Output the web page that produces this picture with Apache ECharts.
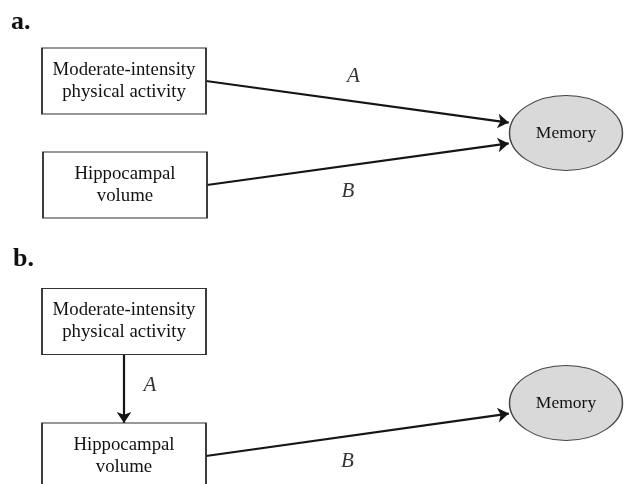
<!DOCTYPE html>
<html>
<head>
<meta charset="utf-8">
<script src="https://cdn.jsdelivr.net/npm/echarts@6/dist/echarts.min.js"></script>
<style>
  html, body { margin: 0; padding: 0; background: #fff; }
  #main { width: 624px; height: 484px; }
</style>
</head>
<body>
<div id="main"></div>
<script>
// nodes of the two path diagrams (a: top, b: bottom)
var nodeNames = ['Moderate-intensity\nphysical activity', 'Hippocampal\nvolume', 'Memory',
                 'Moderate-intensity\nphysical activity', 'Hippocampal\nvolume', 'Memory'];
var nodeX = [124, 125, 566, 124, 124, 566];
var nodeY = [81, 185, 133, 321.5, 456, 403];
var nodeKind = ['box', 'box', 'oval', 'box', 'box', 'oval'];

// paths
var edgeFrom = [0, 1, 3, 4];
var edgeTo = [2, 2, 4, 5];
var edgeLabels = ['A', 'B', 'A', 'B'];
var edgeLabelSide = ['above', 'below', 'right', 'below'];

var panelLetters = ['a.', 'b.'];

(function () {
    var myChart = echarts.init(document.getElementById('main'));
    var BOX_W = 164, BOX_H = 66, OVAL_W = 113, OVAL_H = 75;
    var serif = '"Liberation Serif", "Times New Roman", serif';

    // where each arrow starts / ends
    function ends(i) {
        var s = edgeFrom[i], t = edgeTo[i];
        if (nodeKind[t] === 'oval') {
            var x1 = nodeX[s] + BOX_W / 2, y1 = nodeY[s];
            var dy = 0.2 * (y1 - nodeY[t]);
            var k = dy / (OVAL_H / 2);
            var x2 = nodeX[t] - (OVAL_W / 2) * Math.sqrt(1 - k * k) - 3;
            return [[x1, y1], [x2, nodeY[t] + dy]];
        }
        return [[nodeX[s], nodeY[s] + BOX_H / 2], [nodeX[t], nodeY[t] - BOX_H / 2]];
    }
    var sideOffset = { above: [-4, -25], below: [-10, 27], right: [26, -3] };

    var boxData = [], ovalData = [], lineData = [], labelData = [];
    for (var i = 0; i < nodeNames.length; i++) {
        var item = { name: nodeNames[i], value: [nodeX[i], nodeY[i]] };
        if (nodeKind[i] === 'box') boxData.push(item); else ovalData.push(item);
    }
    for (var j = 0; j < edgeFrom.length; j++) {
        var c = ends(j);
        lineData.push({ coords: c });
        var off = sideOffset[edgeLabelSide[j]];
        labelData.push({
            name: edgeLabels[j],
            value: [(c[0][0] + c[1][0]) / 2 + off[0], (c[0][1] + c[1][1]) / 2 + off[1]]
        });
    }

    var option = {
        backgroundColor: '#fff',
        animation: false,
        grid: { left: 0, right: 0, top: 0, bottom: 0 },
        xAxis: { type: 'value', min: 0, max: 624, show: false },
        yAxis: { type: 'value', min: 0, max: 484, inverse: true, show: false },
        graphic: [
            {
                type: 'text', x: 11, y: 22,
                style: { text: panelLetters[0], font: 'bold 26px ' + serif, fill: '#111', verticalAlign: 'middle' }
            },
            {
                type: 'text', x: 13, y: 259,
                style: { text: panelLetters[1], font: 'bold 26px ' + serif, fill: '#111', verticalAlign: 'middle' }
            }
        ],
        series: [
            {
                type: 'lines',
                coordinateSystem: 'cartesian2d',
                symbol: ['none', 'arrow'],
                symbolSize: 11,
                lineStyle: { color: '#151515', width: 2.2, opacity: 1 },
                data: lineData,
                z: 2
            },
            {
                type: 'scatter',
                symbol: 'rect',
                symbolSize: [BOX_W, BOX_H],
                itemStyle: { color: '#fff', borderColor: '#333', borderWidth: 1.2, opacity: 1 },
                label: {
                    show: true, position: 'inside', formatter: '{b}',
                    fontFamily: serif, fontSize: 18.8, lineHeight: 22, color: '#111'
                },
                data: boxData,
                z: 3
            },
            {
                type: 'scatter',
                symbol: 'circle',
                symbolSize: [OVAL_W, OVAL_H],
                itemStyle: { color: '#d9d9d9', borderColor: '#444', borderWidth: 1.2, opacity: 1 },
                label: {
                    show: true, position: 'inside', formatter: '{b}',
                    fontFamily: serif, fontSize: 17.5, color: '#111'
                },
                data: ovalData,
                z: 3
            },
            {
                type: 'scatter',
                symbolSize: 1,
                itemStyle: { color: 'transparent' },
                label: {
                    show: true, position: 'inside', formatter: '{b}',
                    fontFamily: serif, fontStyle: 'italic', fontSize: 21, color: '#000'
                },
                data: labelData,
                z: 4
            }
        ]
    };
    myChart.setOption(option);
})();
</script>
</body>
</html>
